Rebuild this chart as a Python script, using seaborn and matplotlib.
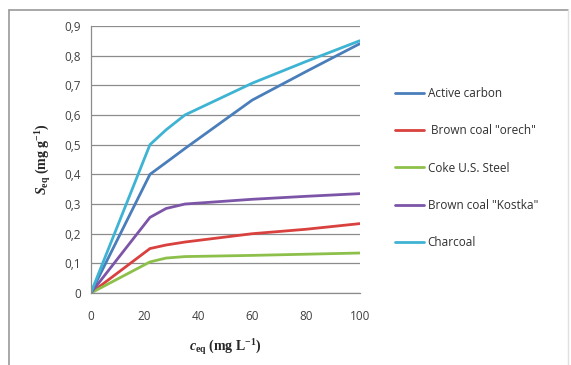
import matplotlib
matplotlib.use("Agg")
import matplotlib.pyplot as plt
import seaborn as sns
import pandas as pd
from matplotlib.lines import Line2D

x_vals = [0, 22, 28, 35, 60, 80, 100]
active_carbon = [0, 0.40, 0.44, 0.487, 0.65, 0.746, 0.84]
brown_orech = [0, 0.15, 0.162, 0.172, 0.20, 0.215, 0.234]
coke = [0, 0.105, 0.118, 0.123, 0.127, 0.131, 0.135]
brown_kostka = [0, 0.255, 0.285, 0.30, 0.316, 0.326, 0.335]
charcoal = [0, 0.50, 0.55, 0.60, 0.707, 0.78, 0.85]

series_names = ['Active carbon', ' Brown coal "orech"', 'Coke U.S. Steel',
                'Brown coal "Kostka"', 'Charcoal']
series_vals = [active_carbon, brown_orech, coke, brown_kostka, charcoal]
colors = ['#4A7EBB', '#D9413F', '#8DC04A', '#7D55A8', '#3EB3D3']

rows = []
for name, vals in zip(series_names, series_vals):
    for xv, yv in zip(x_vals, vals):
        rows.append({'c': xv, 'S': yv, 'Material': name})
df = pd.DataFrame(rows)

sns.set_style("white")
plt.rcParams['font.family'] = ['Open Sans', 'DejaVu Sans']
plt.rcParams['mathtext.fontset'] = 'custom'
plt.rcParams['mathtext.rm'] = 'Liberation Serif'
plt.rcParams['mathtext.it'] = 'Liberation Serif:italic:bold'
plt.rcParams['mathtext.bf'] = 'Liberation Serif:bold'

fig = plt.figure(figsize=(5.71, 3.65), dpi=100)
ax = fig.add_axes([0.159, 0.197, 0.471, 0.732])

sns.lineplot(data=df, x='c', y='S', hue='Material', hue_order=series_names,
             palette=colors, linewidth=2.0, ax=ax, legend=True)

ax.set_xlim(0, 100)
ax.set_ylim(0, 0.9)
ax.set_xticks([0, 20, 40, 60, 80, 100])
ax.set_yticks([i / 10 for i in range(10)])
ax.set_yticklabels(['0'] + [f'0,{i}' for i in range(1, 10)])
ax.tick_params(axis='both', labelsize=8.5, colors='#404040', length=0)
ax.tick_params(axis='x', pad=12)
ax.tick_params(axis='y', pad=7)
ax.yaxis.grid(True, color='#8c8c8c', linewidth=0.9)
ax.xaxis.grid(False)
for s in ['top', 'right']:
    ax.spines[s].set_visible(False)
ax.spines['left'].set_color('#8c8c8c')
ax.spines['bottom'].set_color('#8c8c8c')
ax.spines['left'].set_linewidth(0.9)
ax.spines['bottom'].set_linewidth(0.9)
ax.set_axisbelow(True)

ax.set_xlabel(r'$\mathit{c}_{\mathbf{eq}}$ (mg L$^{\mathbf{-1}}$)', fontsize=10,
              family='Liberation Serif', fontweight='bold', labelpad=10)
ax.set_ylabel(r'$\mathit{S}_{\mathbf{eq}}$ (mg g$^{\mathbf{-1}}$)', fontsize=10,
              family='Liberation Serif', fontweight='bold', labelpad=8)

leg = ax.legend(loc='center left', bbox_to_anchor=(1.13, 0.468), frameon=False,
                fontsize=8.5, handlelength=2.5, handletextpad=0.3, labelspacing=2.05,
                borderaxespad=0, borderpad=0)
for t in leg.get_texts():
    t.set_color('#303030')
for h in leg.get_lines():
    h.set_linewidth(2.0)

# outer chart-area border (top, left, faint right)
fig.add_artist(Line2D([9 / 571, 568 / 571], [1 - 9.5 / 365, 1 - 9.5 / 365],
                      transform=fig.transFigure, color='#9a9a9a', linewidth=1.2))
fig.add_artist(Line2D([9 / 571, 9 / 571], [0, 1 - 9.5 / 365],
                      transform=fig.transFigure, color='#9a9a9a', linewidth=1.2))
fig.add_artist(Line2D([568 / 571, 568 / 571], [0, 1 - 9.5 / 365],
                      transform=fig.transFigure, color='#e0e0e0', linewidth=1.0))

fig.savefig('out.png', dpi=100)
